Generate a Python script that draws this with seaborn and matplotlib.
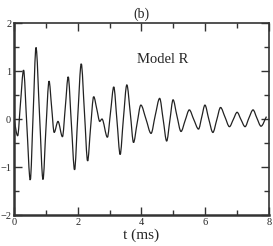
import matplotlib
matplotlib.use("Agg")
import matplotlib.pyplot as plt
import seaborn as sns
from matplotlib.path import Path
from matplotlib.patches import PathPatch
from matplotlib.ticker import MultipleLocator

# Valeurs (t en ms, signal sans unite)
t_ms = [0.00, 0.115, 0.20, 0.30, 0.40, 0.51, 0.60, 0.69, 0.80, 0.91,
        1.00, 1.10, 1.18, 1.26, 1.38, 1.52, 1.61, 1.70, 1.80, 1.90,
        2.00, 2.11, 2.21, 2.31, 2.40, 2.50, 2.60, 2.69, 2.76, 2.93,
        3.03, 3.13, 3.23, 3.33, 3.43, 3.54, 3.65, 3.75, 3.86, 3.98,
        4.14, 4.30, 4.43, 4.57, 4.68, 4.79, 4.89, 4.99, 5.11, 5.24,
        5.37, 5.50, 5.64, 5.79, 5.89, 5.99, 6.11, 6.24, 6.36, 6.48,
        6.62, 6.76, 6.88, 7.00, 7.12, 7.25, 7.37, 7.50, 7.62, 7.75,
        7.92]
signal = [0.00, -0.35, 0.30, 1.02, -0.10, -1.27, 0.10, 1.49, 0.10, -1.26,
          -0.22, 0.79, 0.25, -0.28, -0.05, -0.37, 0.25, 0.88, -0.10, -1.06,
          0.05, 1.15, 0.14, -0.875, -0.20, 0.465, 0.20, -0.05, 0.00, -0.38,
          0.15, 0.67, -0.03, -0.74, -0.01, 0.71, 0.11, -0.49, -0.10, 0.29,
          0.00, -0.30, 0.07, 0.43, -0.01, -0.46, -0.03, 0.40, 0.07, -0.26,
          -0.03, 0.19, -0.01, -0.21, 0.04, 0.29, 0.00, -0.28, -0.02, 0.24,
          0.04, -0.16, -0.01, 0.14, -0.01, -0.16, 0.02, 0.19, 0.02, -0.15,
          0.05]

sns.set_style("ticks")
plt.rcParams["font.family"] = ["Liberation Serif", "DejaVu Serif"]

fig = plt.figure(figsize=(2.73, 2.46), dpi=100)
ax = fig.add_axes([0.0513, 0.126, 0.934, 0.7805])

sns.lineplot(x=t_ms, y=signal, ax=ax, color="#222222", linewidth=0.9,
             estimator=None, sort=False)

# courbe lissee (style monotone) : on remplace la ligne brisee par un chemin de Bezier
line = ax.lines[0]
xs, ys = line.get_xdata(), line.get_ydata()
n = len(xs)
d = [(ys[i + 1] - ys[i]) / (xs[i + 1] - xs[i]) for i in range(n - 1)]
m = [d[0]] + [0.0 if d[i - 1] * d[i] <= 0 else 2 / (1 / d[i - 1] + 1 / d[i])
              for i in range(1, n - 1)] + [d[-1]]
verts = [(xs[0], ys[0])]
codes = [Path.MOVETO]
for i in range(n - 1):
    h = xs[i + 1] - xs[i]
    verts += [(xs[i] + h / 3, ys[i] + m[i] * h / 3),
              (xs[i + 1] - h / 3, ys[i + 1] - m[i + 1] * h / 3),
              (xs[i + 1], ys[i + 1])]
    codes += [Path.CURVE4] * 3
line.set_visible(False)
ax.add_patch(PathPatch(Path(verts, codes), fill=False, edgecolor="#222222",
                       linewidth=0.9))

ax.set_xlim(0, 8)
ax.set_ylim(-2, 2)
ax.xaxis.set_major_locator(MultipleLocator(2))
ax.xaxis.set_minor_locator(MultipleLocator(1))
ax.yaxis.set_major_locator(MultipleLocator(1))
ax.yaxis.set_minor_locator(MultipleLocator(0.5))
ax.tick_params(which="both", direction="in", top=True, right=True,
               labelsize=7.5, color="#333333", pad=2)
ax.tick_params(which="major", length=6, width=1)
ax.tick_params(which="minor", length=3.5, width=1)
for s in ax.spines.values():
    s.set_linewidth(1.2)
    s.set_color("#333333")
ax.spines["left"].set_linewidth(1.8)
ax.spines["bottom"].set_linewidth(1.8)

ax.set_xlabel("t (ms)", fontsize=11, labelpad=1)
ax.set_ylabel("")
ax.set_title("(b)", fontsize=10, pad=4)
ax.text(3.85, 1.17, "Model R", fontsize=10.5)

fig.savefig("out.png", dpi=100)
